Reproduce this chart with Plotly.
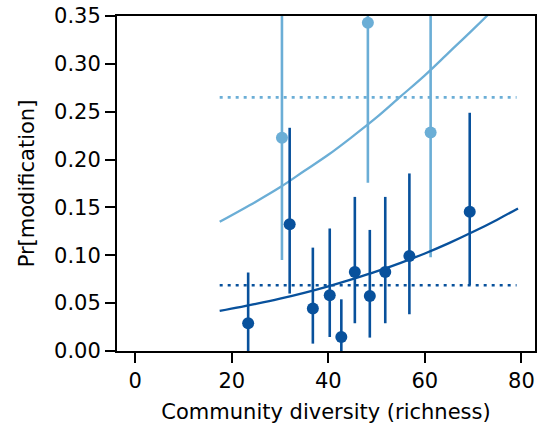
import plotly.graph_objects as go

# Dark blue series (binned points with intervals)
dark_x = [23.4, 32.0, 36.8, 40.3, 42.7, 45.5, 48.6, 51.8, 56.8, 69.3]
dark_y = [0.029, 0.1325, 0.0443, 0.0582, 0.0146, 0.0826, 0.0575, 0.0826, 0.0992, 0.1455]
dark_lo = [0.0, 0.060, 0.0077, 0.0146, 0.0, 0.029, 0.014, 0.029, 0.0384, 0.0687]
dark_hi = [0.082, 0.2332, 0.108, 0.128, 0.054, 0.161, 0.1265, 0.161, 0.1855, 0.2489]

# Light blue series
light_x = [30.4, 48.2, 61.2]
light_y = [0.2227, 0.343, 0.2284]
light_lo = [0.095, 0.1757, 0.098]
light_hi = [0.6, 0.6, 0.6]

# Fitted curves
curve_x = [17.5, 25, 30, 35, 40, 45, 50, 55, 60, 65, 70, 75, 79.3]
light_curve = [0.135, 0.156, 0.171, 0.188, 0.205, 0.224, 0.244, 0.266, 0.288, 0.312, 0.336, 0.361, 0.384]
dark_curve = [0.0418, 0.0492, 0.0546, 0.0607, 0.0675, 0.0750, 0.0831, 0.0921, 0.1019, 0.1127, 0.1245, 0.1372, 0.149]

# Mean reference lines
mean_x = [17.5, 79.0]
light_mean = 0.265
dark_mean = 0.0687

LIGHT = "#6baed6"
DARK = "#08519c"

fig = go.Figure()

fig.add_trace(go.Scatter(x=mean_x, y=[light_mean] * 2, mode="lines",
                         line=dict(color=LIGHT, width=2.6, dash="3px,5px")))
fig.add_trace(go.Scatter(x=curve_x, y=light_curve, mode="lines", line_shape="spline",
                         line=dict(color=LIGHT, width=2.3)))
fig.add_trace(go.Scatter(
    x=light_x, y=light_y, mode="markers",
    marker=dict(color=LIGHT, size=12),
    error_y=dict(type="data", symmetric=False,
                 array=[h - y for h, y in zip(light_hi, light_y)],
                 arrayminus=[y - l for y, l in zip(light_y, light_lo)],
                 color=LIGHT, thickness=2.6, width=0)))

fig.add_trace(go.Scatter(x=mean_x, y=[dark_mean] * 2, mode="lines",
                         line=dict(color=DARK, width=2.6, dash="3px,5px")))
fig.add_trace(go.Scatter(x=curve_x, y=dark_curve, mode="lines", line_shape="spline",
                         line=dict(color=DARK, width=2.3)))
fig.add_trace(go.Scatter(
    x=dark_x, y=dark_y, mode="markers",
    marker=dict(color=DARK, size=12),
    error_y=dict(type="data", symmetric=False,
                 array=[h - y for h, y in zip(dark_hi, dark_y)],
                 arrayminus=[y - l for y, l in zip(dark_y, dark_lo)],
                 color=DARK, thickness=2.6, width=0)))

font = dict(family="DejaVu Sans", size=21, color="black")

fig.update_layout(
    width=538, height=428,
    margin=dict(l=117, r=1, t=16, b=77),
    plot_bgcolor="white", paper_bgcolor="white",
    showlegend=False,
    font=font,
    xaxis=dict(range=[-3.77, 82.82], tickvals=[0, 20, 40, 60, 80],
               showline=True, mirror=True, linecolor="black", linewidth=2,
               ticks="outside", ticklen=10, tickwidth=2, tickcolor="black",
               showgrid=False, zeroline=False, tickfont=font,
               title=dict(text="Community diversity (richness)", font=font, standoff=12)),
    yaxis=dict(range=[0, 0.35], tickvals=[0, 0.05, 0.1, 0.15, 0.2, 0.25, 0.3, 0.35],
               tickformat=".2f",
               showline=True, mirror=True, linecolor="black", linewidth=2,
               ticks="outside", ticklen=10, tickwidth=2, tickcolor="black",
               showgrid=False, zeroline=False, tickfont=font,
               title=dict(text="Pr[modification]", font=font, standoff=14)),
)

fig.write_html("out.html")
